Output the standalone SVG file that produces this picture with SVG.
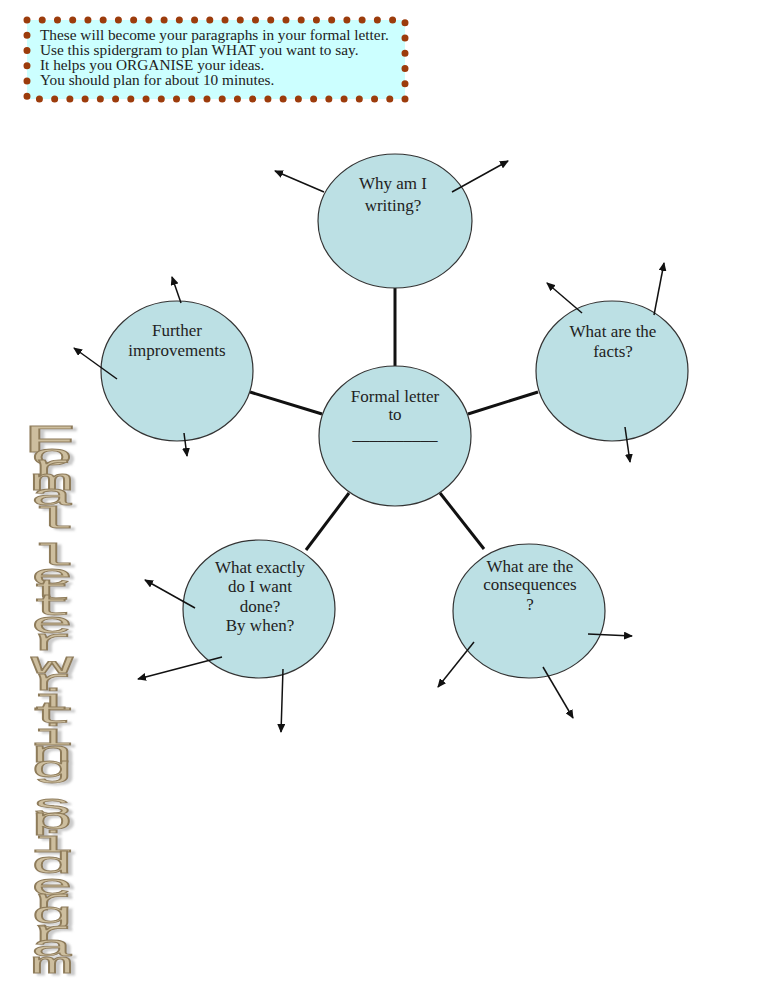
<svg xmlns="http://www.w3.org/2000/svg" width="768" height="994" viewBox="0 0 768 994">
<defs>
<style>
.node{fill:#bce0e4;stroke:#333;stroke-width:1.2}
.lbl{font-family:"Liberation Serif","Times New Roman",serif;font-size:17px;fill:#222;text-anchor:middle}
.note{font-family:"Liberation Serif","Times New Roman",serif;font-size:15.3px;fill:#222}
.spoke{stroke:#111;stroke-width:3;fill:none}
.arr{stroke:#111;stroke-width:1.5;fill:none;marker-end:url(#ah)}
.wa{font-family:"Liberation Mono","Courier New",monospace;font-weight:normal;font-size:29px;fill:#cdbe9e;stroke:#8e7b5a;stroke-width:0.8;vector-effect:non-scaling-stroke;text-anchor:middle}
</style>
<marker id="ah" markerWidth="9" markerHeight="8" refX="8" refY="4" orient="auto" markerUnits="userSpaceOnUse"><path d="M0,0 L9,4 L0,8 z" fill="#111"/></marker>
<filter id="sh" x="-20%" y="-5%" width="160%" height="110%"><feDropShadow dx="4" dy="2" stdDeviation="1" flood-color="#bdbdbd" flood-opacity="0.8"/></filter>
</defs>
<rect width="768" height="994" fill="#fff"/>

<g id="note">
<rect x="27" y="20" width="378" height="79" fill="#ccffff"/>
<rect x="27" y="20" width="378" height="79" fill="none" stroke="#9c3c0c" stroke-width="7" stroke-linecap="round" stroke-dasharray="0 15.233"/>
<text class="note" x="40" y="40">These will become your paragraphs in your formal letter.</text>
<text class="note" x="40" y="55">Use this spidergram to plan WHAT you want to say.</text>
<text class="note" x="40" y="70">It helps you ORGANISE your ideas.</text>
<text class="note" x="40" y="85">You should plan for about 10 minutes.</text>
</g>

<g id="title" filter="url(#sh)">
<text class="wa" transform="scale(2.5,1)"><tspan x="20" y="452" font-size="38">F</tspan><tspan x="20.8" y="465">o</tspan><tspan x="20.8" y="476">r</tspan><tspan x="20.8" y="490">m</tspan><tspan x="20.8" y="505">a</tspan><tspan x="20.8" y="528">l</tspan><tspan x="20.8" y="536"> </tspan><tspan x="20.8" y="565">l</tspan><tspan x="20.8" y="585">e</tspan><tspan x="20.8" y="600">t</tspan><tspan x="20.8" y="615">t</tspan><tspan x="20.8" y="633">e</tspan><tspan x="20.8" y="650">r</tspan><tspan x="20.8" y="653"> </tspan><tspan x="20.8" y="673">w</tspan><tspan x="20.8" y="690">r</tspan><tspan x="20.8" y="710">i</tspan><tspan x="20.8" y="723">t</tspan><tspan x="20.8" y="745">i</tspan><tspan x="20.8" y="762">n</tspan><tspan x="20.8" y="777">g</tspan><tspan x="20.8" y="790"> </tspan><tspan x="20.8" y="815">s</tspan><tspan x="20.8" y="829">p</tspan><tspan x="20.8" y="852">i</tspan><tspan x="20.8" y="873">d</tspan><tspan x="20.8" y="895">e</tspan><tspan x="20.8" y="910">r</tspan><tspan x="20.8" y="923">g</tspan><tspan x="20.8" y="942">r</tspan><tspan x="20.8" y="956">a</tspan><tspan x="20.8" y="973">m</tspan></text>
</g>

<g id="connectors">
<line class="spoke" x1="395" y1="287" x2="395" y2="367"/>
<line class="spoke" x1="250" y1="392" x2="322" y2="414"/>
<line class="spoke" x1="468" y1="414" x2="538" y2="392"/>
<line class="spoke" x1="349" y1="493" x2="306" y2="550"/>
<line class="spoke" x1="440" y1="493" x2="484" y2="549"/>
</g>

<g id="node-why">
<ellipse class="node" cx="395" cy="221" rx="77" ry="67"/>
<text class="lbl" x="393" y="189">Why am I</text>
<text class="lbl" x="393" y="211">writing?</text>
</g>
<g id="node-further">
<ellipse class="node" cx="177" cy="371" rx="76" ry="70"/>
<text class="lbl" x="177" y="336">Further</text>
<text class="lbl" x="177" y="356">improvements</text>
</g>
<g id="node-facts">
<ellipse class="node" cx="612" cy="371" rx="76" ry="70"/>
<text class="lbl" x="613" y="337">What are the</text>
<text class="lbl" x="613" y="357">facts?</text>
</g>
<g id="node-center">
<ellipse class="node" cx="395" cy="436" rx="76" ry="70"/>
<text class="lbl" x="395" y="402">Formal letter</text>
<text class="lbl" x="395" y="420">to</text>
<text class="lbl" x="395" y="440">__________</text>
</g>
<g id="node-done">
<ellipse class="node" cx="259" cy="609" rx="76" ry="69"/>
<text class="lbl" x="260" y="573">What exactly</text>
<text class="lbl" x="260" y="592">do I want</text>
<text class="lbl" x="260" y="612">done?</text>
<text class="lbl" x="260" y="631">By when?</text>
</g>
<g id="node-consequences">
<ellipse class="node" cx="529" cy="611" rx="76" ry="67"/>
<text class="lbl" x="530" y="572">What are the</text>
<text class="lbl" x="530" y="590">consequences</text>
<text class="lbl" x="530" y="610">?</text>
</g>

<g id="branches">
<line class="arr" x1="324" y1="192" x2="275" y2="171"/>
<line class="arr" x1="452" y1="192" x2="508" y2="161"/>
<line class="arr" x1="181" y1="303" x2="172" y2="277"/>
<line class="arr" x1="117" y1="379" x2="74" y2="348"/>
<line class="arr" x1="184" y1="433" x2="187" y2="456"/>
<line class="arr" x1="582" y1="313" x2="547" y2="283"/>
<line class="arr" x1="654" y1="315" x2="664" y2="263"/>
<line class="arr" x1="625" y1="427" x2="630" y2="462"/>
<line class="arr" x1="195" y1="608" x2="145" y2="580"/>
<line class="arr" x1="222" y1="657" x2="138" y2="679"/>
<line class="arr" x1="283" y1="669" x2="281" y2="732"/>
<line class="arr" x1="474" y1="642" x2="438" y2="687"/>
<line class="arr" x1="543" y1="667" x2="573" y2="718"/>
<line class="arr" x1="588" y1="634" x2="632" y2="636"/>
</g>
</svg>
